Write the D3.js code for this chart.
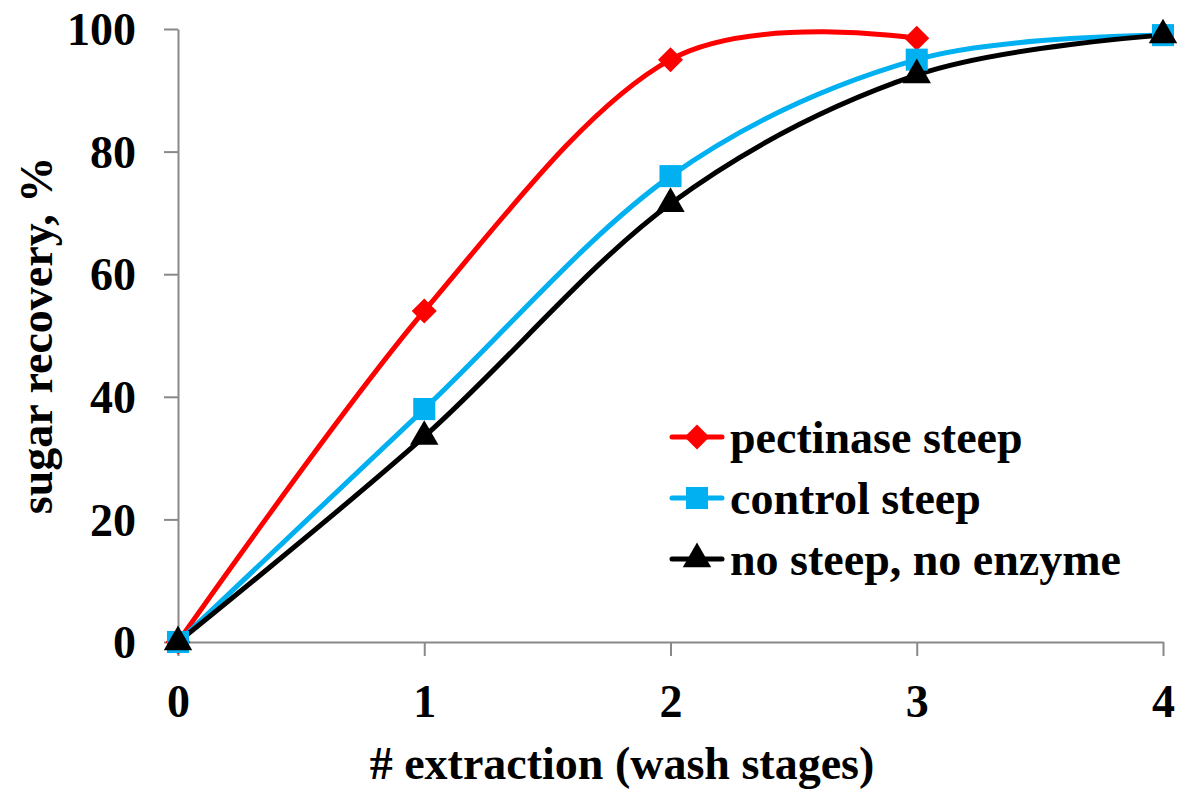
<!DOCTYPE html>
<html>
<head>
<meta charset="utf-8">
<script src="https://cdn.jsdelivr.net/npm/d3@7"></script>
<style>
  body { margin: 0; background: #fff; }
  svg { display: block; }
  text { font-family: "Liberation Serif", "Times New Roman", serif; font-weight: bold; fill: #000; }
</style>
</head>
<body>
<svg id="chart" width="1179" height="794"></svg>
<script>
// data
const stages = [0, 1, 2, 3, 4];
const pectinase = [0, 54, 95, 98.5];
const control = [0, 38, 76, 95, 99];
const noSteep = [0, 33.5, 71.5, 92.5, 99];
const xTicks = [0, 1, 2, 3, 4];
const yTicks = [0, 20, 40, 60, 80, 100];
const seriesNames = ["pectinase steep", "control steep", "no steep, no enzyme"];

const series = [
  { name: seriesNames[0], values: pectinase, color: "#ff0000", marker: d3.symbolDiamond2, size: 400 },
  { name: seriesNames[1], values: control, color: "#00b0f0", marker: d3.symbolSquare2, size: 620 },
  { name: seriesNames[2], values: noSteep, color: "#000000", marker: d3.symbolTriangle2, size: 580 }
];

const svg = d3.select("#chart");
const margin = { left: 178, right: 15, top: 29, bottom: 152 };
const width = 1179, height = 794;
const FONT = "'Liberation Serif', 'Times New Roman', serif";

const x = d3.scaleLinear().domain([0, 4]).range([margin.left, width - margin.right - 1]);
const y = d3.scaleLinear().domain([0, 100]).range([height - margin.bottom, margin.top]);

// axes
const xAxis = svg.append("g")
  .attr("transform", `translate(0,${y(0)})`)
  .call(d3.axisBottom(x).tickValues(xTicks).tickFormat(d3.format("d"))
    .tickSize(14).tickPadding(28).tickSizeOuter(0));
const yAxis = svg.append("g")
  .attr("transform", `translate(${x(0)},0)`)
  .call(d3.axisLeft(y).tickValues(yTicks).tickSize(14).tickPadding(28).tickSizeOuter(0));

[xAxis, yAxis].forEach(g => {
  g.attr("font-family", null).attr("font-size", null);
  g.select(".domain").attr("stroke", "#898989").attr("stroke-width", 2);
  g.selectAll(".tick line").attr("stroke", "#898989").attr("stroke-width", 2);
  g.selectAll(".tick text")
    .attr("fill", "#000")
    .style("font-family", FONT)
    .style("font-weight", "bold")
    .style("font-size", "46px");
});
yAxis.selectAll(".tick text").attr("dy", "0.34em");
xAxis.selectAll(".tick text").attr("dy", "0.71em");

// axis titles
svg.append("text")
  .attr("x", 622)
  .attr("y", 779)
  .attr("text-anchor", "middle")
  .style("font-family", FONT)
  .style("font-size", "46px")
  .text("# extraction (wash stages)");

svg.append("text")
  .attr("transform", `translate(52,${(y(0) + y(100)) / 2}) rotate(-90)`)
  .attr("text-anchor", "middle")
  .style("font-family", FONT)
  .style("font-size", "46px")
  .text("sugar recovery, %");

// lines
const line = d3.line()
  .x((d, i) => x(stages[i]))
  .y(d => y(d))
  .curve(d3.curveCardinal.tension(0));

series.forEach(s => {
  svg.append("path")
    .datum(s.values)
    .attr("fill", "none")
    .attr("stroke", s.color)
    .attr("stroke-width", 5)
    .attr("d", line);
});

// markers
series.forEach(s => {
  svg.append("g").selectAll("path")
    .data(s.values)
    .join("path")
    .attr("transform", (d, i) => `translate(${x(stages[i])},${y(d)})`)
    .attr("d", d3.symbol().type(s.marker).size(s.size))
    .attr("fill", s.color);
});

// legend
const legend = svg.append("g").attr("transform", "translate(670,437)");
series.forEach((s, i) => {
  const row = legend.append("g").attr("transform", `translate(0,${i * 61})`);
  row.append("line")
    .attr("x1", 2).attr("x2", 52)
    .attr("stroke", s.color).attr("stroke-width", 5)
    .attr("stroke-linecap", "round");
  row.append("path")
    .attr("transform", "translate(27,0)")
    .attr("d", d3.symbol().type(s.marker).size(s.size))
    .attr("fill", s.color);
  row.append("text")
    .attr("x", 60)
    .attr("dy", "0.34em")
    .style("font-family", FONT)
    .style("font-size", "46px")
    .text(s.name);
});
</script>
</body>
</html>
